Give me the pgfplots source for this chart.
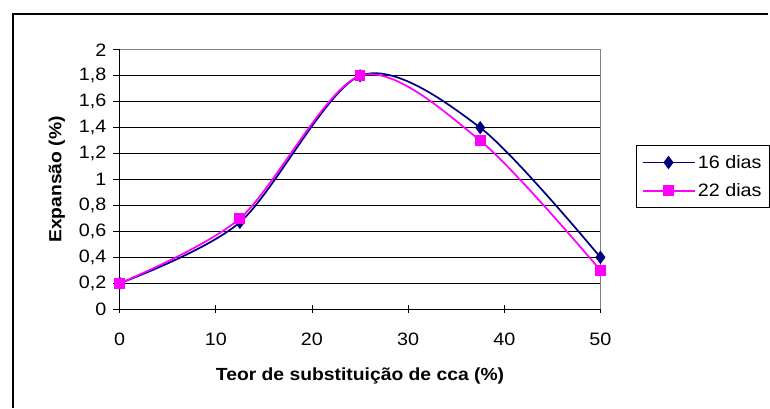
\documentclass[border=0pt]{standalone}
\usepackage{fontspec}
\setmainfont{Liberation Sans}[FakeStretch=1.1]
\usepackage{pgfplots}
\pgfplotsset{compat=1.18}
\definecolor{navy16}{RGB}{0,0,128}
\definecolor{mag22}{RGB}{255,0,255}
\definecolor{framegray}{RGB}{128,128,128}
\newcommand\ff{\fontsize{13.5}{15}\selectfont}
\newcommand\fl{\fontsize{13.2}{15}\selectfont\bfseries}

\begin{document}
\begin{tikzpicture}
% page area 770 x 409 px (1 px = 0.75pt)
\path (0pt,0pt) rectangle (577.5pt,306.75pt);
% outer chart frame (runs off the right and bottom edges)
\draw[line width=1.6pt] (9.75pt,0pt) -- (9.75pt,296.25pt) -- (577.5pt,296.25pt);
\begin{axis}[
  at={(90pt,74.25pt)}, anchor=south west,
  scale only axis, width=361.5pt, height=195pt,
  xmin=0, xmax=50, ymin=0, ymax=2,
  xtick={0,10,20,30,40,50},
  xticklabels={0,10,20,30,40,50},
  ytick={0,0.2,0.4,0.6,0.8,1,1.2,1.4,1.6,1.8,2},
  yticklabels={0,{0,2},{0,4},{0,6},{0,8},1,{1,2},{1,4},{1,6},{1,8},2},
  axis lines=left, axis line style={-, black, line width=0.8pt},
  tick align=center, major tick length=6pt,
  tick style={black, line width=0.7pt},
  ytick style={xshift=-2pt},
  ymajorgrids, grid style={black, line width=0.6pt},
  clip=false,
  tick label style={font=\ff},
  xticklabel style={yshift=-11pt},
  yticklabel style={xshift=-3.5pt},
  xlabel={Teor de substituição de cca (\%)},
  ylabel={Expansão (\%)},
  label style={font=\fl},
  xlabel style={yshift=-10pt},
  ylabel style={yshift=3.5pt},
  legend style={at={(1.074,0.632)}, anchor=north west, draw=black,
    line width=0.6pt, font=\ff, row sep=6pt, inner xsep=4pt, inner ysep=5pt,
    cells={anchor=west}},
  legend image code/.code={
    \draw[mark repeat=2, mark phase=2, line width=1.3pt]
      plot coordinates {(0pt,0pt) (19.5pt,0pt) (39pt,0pt)};},
]
\draw[framegray, line width=0.8pt] (rel axis cs:0,1) -- (rel axis cs:1,1) -- (rel axis cs:1,0);
\addplot[navy16, line width=1.3pt, smooth, mark=diamond*, mark size=4pt,
  mark options={solid, fill=navy16}]
  coordinates {(0,0.2) (12.5,0.67) (25,1.8) (37.5,1.4) (50,0.4)};
\addplot[mag22, line width=1.3pt, smooth, mark=square*, mark size=3.4pt,
  mark options={solid, fill=mag22}]
  coordinates {(0,0.2) (12.5,0.7) (25,1.8) (37.5,1.3) (50,0.3)};
\legend{16 dias, 22 dias}
\end{axis}
\end{tikzpicture}
\end{document}
